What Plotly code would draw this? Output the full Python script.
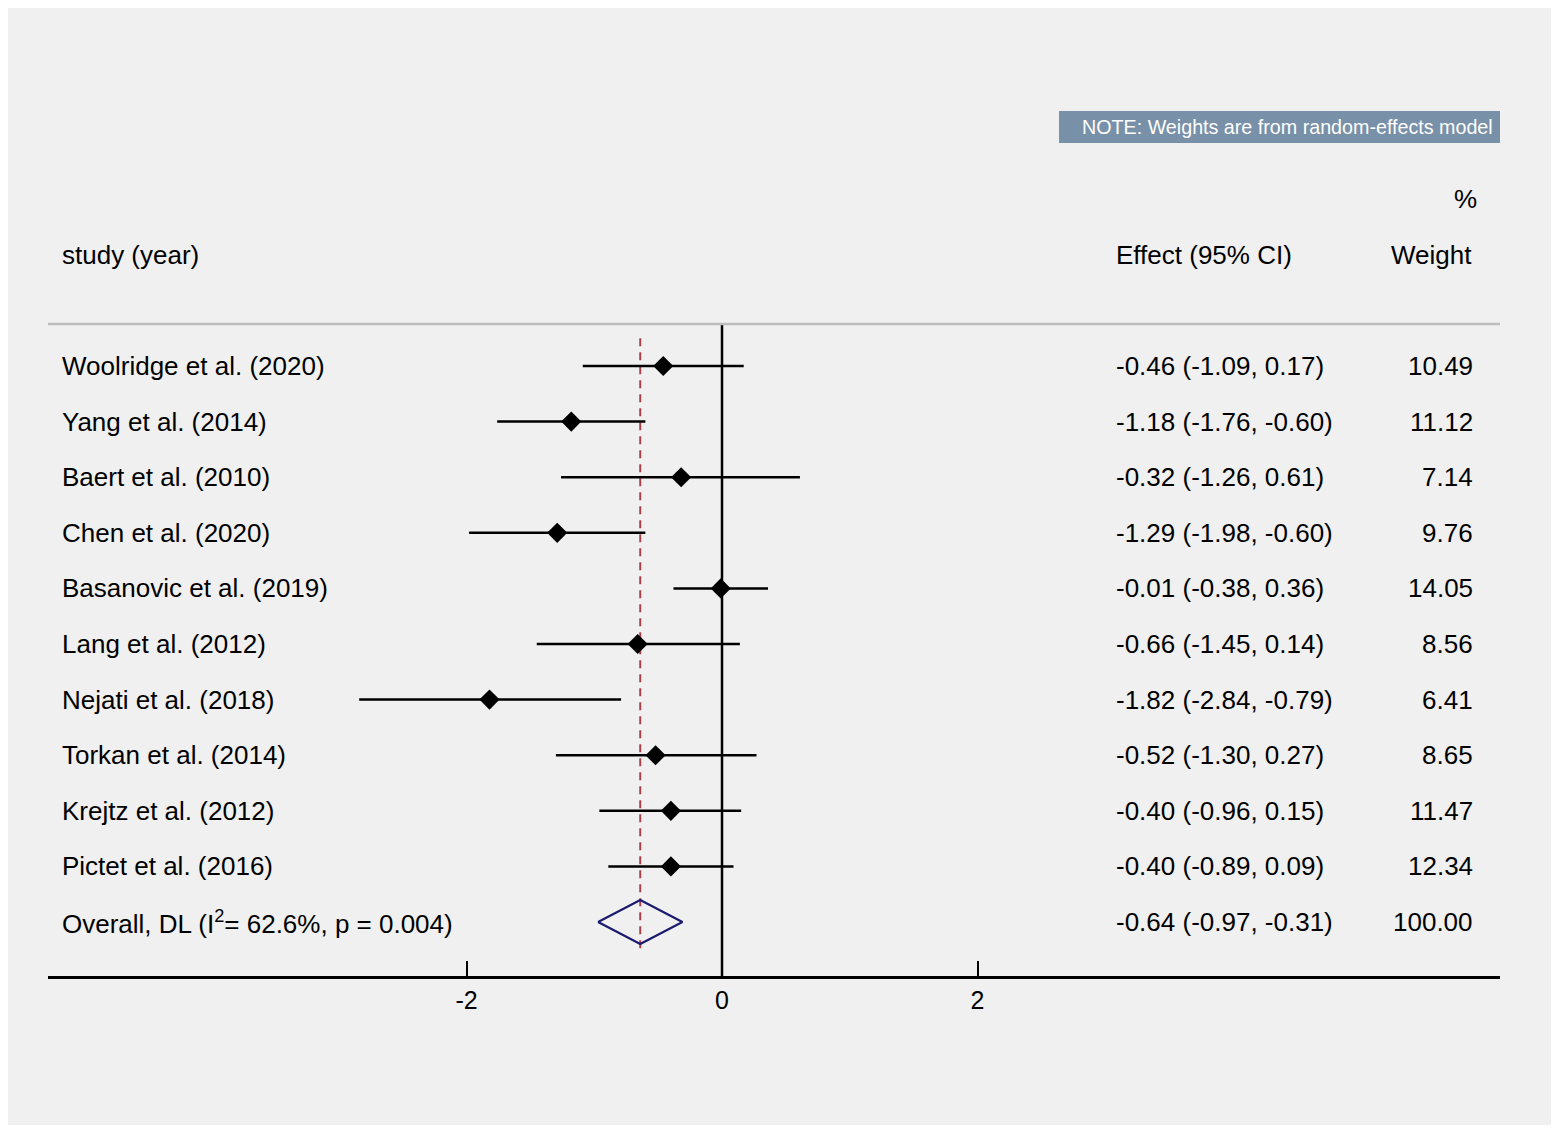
import plotly.graph_objects as go

# study rows, top to bottom
studies = [
    "Woolridge et al. (2020)",
    "Yang et al. (2014)",
    "Baert et al. (2010)",
    "Chen et al. (2020)",
    "Basanovic et al. (2019)",
    "Lang et al. (2012)",
    "Nejati et al. (2018)",
    "Torkan et al. (2014)",
    "Krejtz et al. (2012)",
    "Pictet et al. (2016)",
]
effects = [-0.46, -1.18, -0.32, -1.29, -0.01, -0.66, -1.82, -0.52, -0.40, -0.40]
ci_low = [-1.09, -1.76, -1.26, -1.98, -0.38, -1.45, -2.84, -1.30, -0.96, -0.89]
ci_high = [0.17, -0.60, 0.61, -0.60, 0.36, 0.14, -0.79, 0.27, 0.15, 0.09]
weights = [10.49, 11.12, 7.14, 9.76, 14.05, 8.56, 6.41, 8.65, 11.47, 12.34]

overall_label = "Overall, DL (I<sup>2</sup>= 62.6%, p = 0.004)"
overall_effect = -0.64
overall_low = -0.97
overall_high = -0.31
overall_weight = 100.00

tick_vals = [-2, 0, 2]

_BG = "#f0f0f0"
_FONT = "Liberation Sans, Arial, sans-serif"
_NOTE_COLOR = "#7890a8"
_NAVY = "#1a1a6e"
_RED = "#a8404c"

# the page body adds an 8px white margin, which gives the white frame
W, H = 1543, 1117
rows = list(range(len(studies)))
overall_row = len(studies)
axis_row = overall_row + 1          # where the x axis line sits
top_rule = -0.755                   # grey rule under the header
header_row = -2
pct_row = -3
note_y0, note_y1 = -4.586, -4.011

fig = go.Figure()

# header rule
fig.add_shape(type="line", xref="paper", yref="y", x0=0, x1=1,
              y0=top_rule, y1=top_rule,
              line={"color": "#bdbdbd", "width": 2.5})

# note box
fig.add_shape(type="rect", xref="paper", yref="y", x0=0.6963, x1=1.0,
              y0=note_y0, y1=note_y1, fillcolor=_NOTE_COLOR,
              line={"width": 0})
fig.add_annotation(text="NOTE: Weights are from random-effects model",
                   xref="paper", yref="y", x=0.9966,
                   y=(note_y0 + note_y1) / 2, xanchor="right",
                   yanchor="middle", showarrow=False,
                   font={"color": "white", "size": 19.7, "family": _FONT})

# null line
fig.add_trace(go.Scatter(x=[0, 0], y=[top_rule, axis_row], mode="lines",
                         line={"color": "black", "width": 2.5},
                         hoverinfo="skip", showlegend=False))

# overall effect dashed line
fig.add_trace(go.Scatter(x=[overall_effect, overall_effect],
                         y=[-0.5, overall_row + 0.47], mode="lines",
                         line={"color": _RED, "width": 2, "dash": "8px,6px"},
                         hoverinfo="skip", showlegend=False))

# study estimates with CIs
fig.add_trace(go.Scatter(
    x=effects, y=rows, mode="markers",
    marker={"symbol": "diamond", "size": 15.5, "color": "black"},
    error_x={"type": "data", "symmetric": False,
             "array": [h - e for h, e in zip(ci_high, effects)],
             "arrayminus": [e - l for e, l in zip(effects, ci_low)],
             "width": 0, "thickness": 2.5, "color": "black"},
    hoverinfo="skip", showlegend=False,
))

# overall diamond
dh = 0.396
fig.add_trace(go.Scatter(
    x=[overall_low, overall_effect, overall_high, overall_effect, overall_low],
    y=[overall_row, overall_row - dh, overall_row, overall_row + dh, overall_row],
    mode="lines", line={"color": _NAVY, "width": 2.2},
    hoverinfo="skip", showlegend=False,
))

# text columns
lbl_x, eff_x, wt_x = 0.00826, 0.7341, 0.98278
txt_font = {"size": 26, "color": "black", "family": _FONT}


def _text(s, x, y, anchor):
    fig.add_annotation(text=s, xref="paper", yref="y", x=x, y=y,
                       xanchor=anchor, yanchor="middle", showarrow=False,
                       font=txt_font)


_text("study (year)", lbl_x, header_row, "left")
_text("Effect (95% CI)", eff_x, header_row, "left")
_text("Weight", wt_x - 0.0007, header_row, "right")
_text("%", wt_x + 0.0028, pct_row, "right")

for i, (s, e, lo, hi, w) in enumerate(zip(studies, effects, ci_low, ci_high, weights)):
    _text(s, lbl_x, i, "left")
    _text(f"{e:.2f} ({lo:.2f}, {hi:.2f})", eff_x, i, "left")
    _text(f"{w:.2f}", wt_x, i, "right")

_text(overall_label, lbl_x, overall_row, "left")
_text(f"{overall_effect:.2f} ({overall_low:.2f}, {overall_high:.2f})",
      eff_x, overall_row, "left")
_text(f"{overall_weight:.2f}", wt_x, overall_row, "right")

fig.update_layout(
    width=W, height=H,
    margin={"l": 40, "r": 51, "t": 0, "b": 0, "pad": 0},
    paper_bgcolor=_BG, plot_bgcolor=_BG,
    font={"family": _FONT},
    xaxis={
        "range": [-5.276, 6.09], "anchor": "free", "position": 0.1325,
        "showgrid": False, "zeroline": False, "showline": True,
        "linecolor": "black", "linewidth": 2.5,
        "tickmode": "array", "tickvals": tick_vals,
        "ticktext": [str(t) for t in tick_vals],
        "ticks": "inside", "ticklen": 15, "tickwidth": 2, "tickcolor": "black",
        "tickfont": {"size": 25, "color": "black", "family": _FONT},
    },
    yaxis={
        "range": [13.651, -6.439], "visible": False, "showgrid": False,
        "zeroline": False,
    },
)

fig.write_html("out.html")
